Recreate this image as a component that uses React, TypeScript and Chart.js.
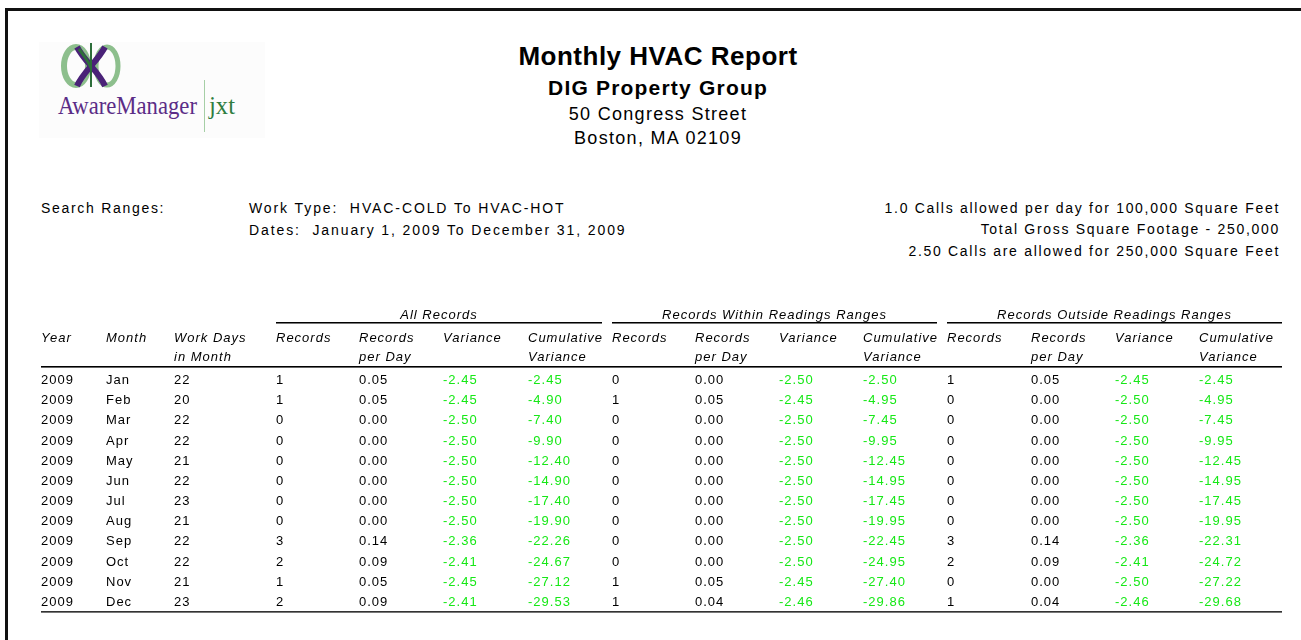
import React, { useEffect, useRef } from "react";
import { Chart, registerables } from "chart.js";

Chart.register(...registerables);

// ---------- DATA ----------
const MONTHS = ["Jan", "Feb", "Mar", "Apr", "May", "Jun", "Jul", "Aug", "Sep", "Oct", "Nov", "Dec"];
const YEARS = [2009, 2009, 2009, 2009, 2009, 2009, 2009, 2009, 2009, 2009, 2009, 2009];
const WORK_DAYS = [22, 20, 22, 22, 21, 22, 23, 21, 22, 22, 21, 23];

const ALL_RECORDS = [1, 1, 0, 0, 0, 0, 0, 0, 3, 2, 1, 2];
const ALL_PER_DAY = [0.05, 0.05, 0, 0, 0, 0, 0, 0, 0.14, 0.09, 0.05, 0.09];
const ALL_VARIANCE = [-2.45, -2.45, -2.5, -2.5, -2.5, -2.5, -2.5, -2.5, -2.36, -2.41, -2.45, -2.41];
const ALL_CUMULATIVE = [-2.45, -4.9, -7.4, -9.9, -12.4, -14.9, -17.4, -19.9, -22.26, -24.67, -27.12, -29.53];

const WITHIN_RECORDS = [0, 1, 0, 0, 0, 0, 0, 0, 0, 0, 1, 1];
const WITHIN_PER_DAY = [0, 0.05, 0, 0, 0, 0, 0, 0, 0, 0, 0.05, 0.04];
const WITHIN_VARIANCE = [-2.5, -2.45, -2.5, -2.5, -2.5, -2.5, -2.5, -2.5, -2.5, -2.5, -2.45, -2.46];
const WITHIN_CUMULATIVE = [-2.5, -4.95, -7.45, -9.95, -12.45, -14.95, -17.45, -19.95, -22.45, -24.95, -27.4, -29.86];

const OUTSIDE_RECORDS = [1, 0, 0, 0, 0, 0, 0, 0, 3, 2, 0, 1];
const OUTSIDE_PER_DAY = [0.05, 0, 0, 0, 0, 0, 0, 0, 0.14, 0.09, 0, 0.04];
const OUTSIDE_VARIANCE = [-2.45, -2.5, -2.5, -2.5, -2.5, -2.5, -2.5, -2.5, -2.36, -2.41, -2.5, -2.46];
const OUTSIDE_CUMULATIVE = [-2.45, -4.95, -7.45, -9.95, -12.45, -14.95, -17.45, -19.95, -22.31, -24.72, -27.22, -29.68];

const GROUP_TITLES = ["All Records", "Records Within Readings Ranges", "Records Outside Readings Ranges"];
const BASE_HEADERS = [["Year"], ["Month"], ["Work Days", "in Month"]];
const GROUP_HEADERS = [["Records"], ["Records", "per Day"], ["Variance"], ["Cumulative", "Variance"]];

// ---------- LAYOUT / STYLE ----------
const COL_X = [41, 106, 174, 276, 359, 443, 528, 612, 695, 779, 863, 947, 1031, 1115, 1199];
const TABLE_RIGHT = 1282;
const GREEN = "#16e816";
const FONT = "'Liberation Sans', Arial, sans-serif";

type Col = { values: (number | string)[]; kind: "int" | "dec" | "text"; color: string };

const COLUMNS: Col[] = [
  { values: YEARS, kind: "int", color: "#000" },
  { values: MONTHS, kind: "text", color: "#000" },
  { values: WORK_DAYS, kind: "int", color: "#000" },
  { values: ALL_RECORDS, kind: "int", color: "#000" },
  { values: ALL_PER_DAY, kind: "dec", color: "#000" },
  { values: ALL_VARIANCE, kind: "dec", color: GREEN },
  { values: ALL_CUMULATIVE, kind: "dec", color: GREEN },
  { values: WITHIN_RECORDS, kind: "int", color: "#000" },
  { values: WITHIN_PER_DAY, kind: "dec", color: "#000" },
  { values: WITHIN_VARIANCE, kind: "dec", color: GREEN },
  { values: WITHIN_CUMULATIVE, kind: "dec", color: GREEN },
  { values: OUTSIDE_RECORDS, kind: "int", color: "#000" },
  { values: OUTSIDE_PER_DAY, kind: "dec", color: "#000" },
  { values: OUTSIDE_VARIANCE, kind: "dec", color: GREEN },
  { values: OUTSIDE_CUMULATIVE, kind: "dec", color: GREEN },
];

function fmt(v: number | string, kind: string) {
  if (kind === "dec") return (v as number).toFixed(2);
  return String(v);
}

const tablePlugin = {
  id: "tableText",
  afterDatasetsDraw(chart: any) {
    const ctx = chart.ctx as CanvasRenderingContext2D;
    const x = chart.scales.x;
    const area = chart.chartArea;
    const top = area.top;
    const bottom = area.bottom;
    const px = (c: number) => x.getPixelForValue(COL_X[c]);
    ctx.save();
    (ctx as any).letterSpacing = "1px";
    ctx.textBaseline = "middle";
    ctx.textAlign = "left";

    // cells, positioned by the chart's scales
    chart.data.datasets.forEach((ds: any, d: number) => {
      const meta = chart.getDatasetMeta(d);
      const col = COLUMNS[d];
      ctx.fillStyle = col.color;
      ctx.font = `13px ${FONT}`;
      meta.data.forEach((el: any, i: number) => {
        ctx.fillText(fmt(col.values[i], col.kind), Math.round(el.x), Math.round(el.y) + 1);
      });
    });

    // headers
    ctx.fillStyle = "#000";
    ctx.font = `italic 13px ${FONT}`;
    const headers = [...BASE_HEADERS, ...GROUP_HEADERS, ...GROUP_HEADERS, ...GROUP_HEADERS];
    headers.forEach((lines, c) => {
      lines.forEach((t, j) => ctx.fillText(t, px(c), top - 31 + j * 19));
    });
    // group titles + rules
    ctx.textAlign = "center";
    GROUP_TITLES.forEach((t, g) => {
      const c0 = 3 + g * 4;
      const left = px(c0);
      const right = g < 2 ? px(c0 + 4) - 10 : x.getPixelForValue(TABLE_RIGHT);
      ctx.fillText(t, (left + right) / 2, top - 54);
      ctx.fillStyle = "#000";
      ctx.fillRect(left, top - 47, right - left, 1);
      ctx.fillStyle = "#777";
      ctx.fillRect(left, top - 46, right - left, 1);
      ctx.fillStyle = "#000";
    });
    const l = px(0);
    const r = x.getPixelForValue(TABLE_RIGHT);
    ctx.fillStyle = "#000";
    ctx.fillRect(l, top - 3, r - l, 1);
    ctx.fillStyle = "#666";
    ctx.fillRect(l, top - 2, r - l, 1);
    ctx.fillStyle = "#333";
    ctx.fillRect(l, bottom, r - l, 1);
    ctx.fillStyle = "#777";
    ctx.fillRect(l, bottom + 1, r - l, 1);
    ctx.restore();
  },
};

function Logo() {
  return (
    <svg width="226" height="96" style={{ position: "absolute", left: 39, top: 42 }}>
      <rect x="0" y="0" width="226" height="96" fill="#fcfcfc" />
      <ellipse cx="37" cy="24" rx="12" ry="19" fill="none" stroke="#8dbf8d" strokeWidth="6" />
      <ellipse cx="68" cy="24" rx="11" ry="19" fill="none" stroke="#8dbf8d" strokeWidth="5" />
      <path d="M38 5 C 46 20, 60 30, 66 44" fill="none" stroke="#4a2278" strokeWidth="6" />
      <path d="M66 5 C 58 20, 44 30, 38 44" fill="none" stroke="#4a2278" strokeWidth="6" />
      <path d="M52 1 L 52 45" fill="none" stroke="#2d6e3a" strokeWidth="2" />
      <path d="M40 7 C 46 15, 50 20, 52 26" fill="none" stroke="#2d6e3a" strokeWidth="3" />
      <text
        x="19"
        y="72"
        fontFamily="'Liberation Serif', 'Times New Roman', serif"
        fontSize="25"
        fill="#5b2d87"
        textLength="139"
        lengthAdjust="spacingAndGlyphs"
      >
        AwareManager
      </text>
      <line x1="165.5" y1="38" x2="165.5" y2="90" stroke="#a6cfa6" strokeWidth="1" />
      <text
        x="170"
        y="72"
        fontFamily="'Liberation Serif', 'Times New Roman', serif"
        fontSize="25"
        fill="#2f7d40"
        textLength="26"
        lengthAdjust="spacingAndGlyphs"
      >
        jxt
      </text>
    </svg>
  );
}

const txt = (extra: React.CSSProperties): React.CSSProperties => ({
  position: "absolute",
  fontFamily: FONT,
  color: "#000",
  whiteSpace: "nowrap",
  ...extra,
});

const small = { fontSize: 14, lineHeight: "14px", letterSpacing: 1.7 };
const smallLeft = { fontSize: 14, lineHeight: "14px", letterSpacing: 1.9 };

export default function App() {
  const ref = useRef<HTMLCanvasElement | null>(null);
  useEffect(() => {
    if (!ref.current) return;
    const chart = new Chart(ref.current, {
      type: "scatter",
      data: {
        labels: MONTHS,
        datasets: COLUMNS.map((col, c) => ({
          label: `col${c}`,
          data: col.values.map((_, i) => ({ x: COL_X[c], y: i })),
          pointRadius: 0,
          pointHoverRadius: 0,
          showLine: false,
        })),
      },
      options: {
        responsive: false,
        animation: false,
        events: [],
        layout: { padding: { top: 369, bottom: 29, left: 0, right: 0 } },
        scales: {
          x: { type: "linear", min: 0, max: 1301, display: false },
          y: { type: "category", labels: MONTHS, offset: true, display: false },
        },
        plugins: { legend: { display: false }, tooltip: { enabled: false }, title: { display: false } },
      },
      plugins: [tablePlugin],
    });
    return () => chart.destroy();
  }, []);

  return (
    <div style={{ position: "absolute", left: 0, top: 0, width: 1301, height: 640, overflow: "hidden", background: "#fff" }}>
      <div
        style={{
          position: "absolute",
          left: 5,
          top: 8,
          width: 1400,
          height: 800,
          borderTop: "3px solid #111",
          borderLeft: "3px solid #111",
        }}
      />
      <Logo />
      <div style={txt({ left: 14, width: 1288, top: 43, textAlign: "center", fontSize: 26, fontWeight: "bold", lineHeight: "26px", letterSpacing: 0.5 })}>
        Monthly HVAC Report
      </div>
      <div style={txt({ left: 14, width: 1288, top: 77, textAlign: "center", fontSize: 21, fontWeight: "bold", lineHeight: "21px", letterSpacing: 1.2 })}>
        DIG Property Group
      </div>
      <div style={txt({ left: 14, width: 1288, top: 105, textAlign: "center", fontSize: 18, lineHeight: "18px", letterSpacing: 1.3 })}>
        50 Congress Street
      </div>
      <div style={txt({ left: 14, width: 1288, top: 129, textAlign: "center", fontSize: 18, lineHeight: "18px", letterSpacing: 1.3 })}>
        Boston, MA 02109
      </div>
      <div style={txt({ left: 41, top: 201, ...small })}>Search Ranges:</div>
      <div style={txt({ left: 249, top: 201, ...smallLeft })}>Work Type:&nbsp; HVAC-COLD To HVAC-HOT</div>
      <div style={txt({ left: 249, top: 223, ...smallLeft })}>Dates:&nbsp; January 1, 2009 To December 31, 2009</div>
      <div style={txt({ right: 21, top: 201, textAlign: "right", ...small })}>
        1.0 Calls allowed per day for 100,000 Square Feet
      </div>
      <div style={txt({ right: 21, top: 222, textAlign: "right", ...small })}>Total Gross Square Footage - 250,000</div>
      <div style={txt({ right: 21, top: 244, textAlign: "right", ...small })}>
        2.50 Calls are allowed for 250,000 Square Feet
      </div>
      <canvas ref={ref} width={1301} height={640} style={{ position: "absolute", left: 0, top: 0, width: 1301, height: 640 }} />
    </div>
  );
}
